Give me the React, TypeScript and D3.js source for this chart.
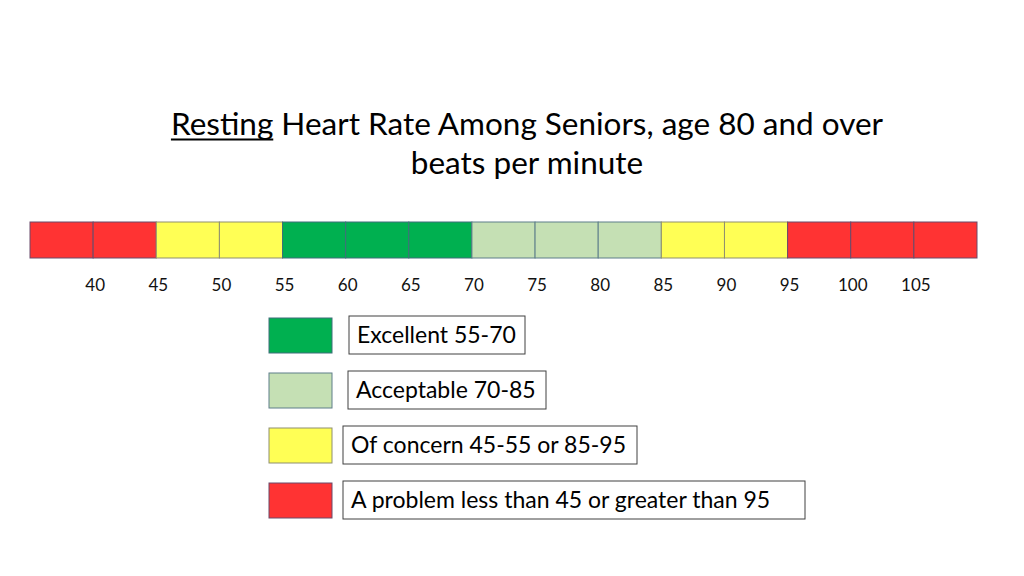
import * as d3 from "d3";
import React, { useLayoutEffect, useRef, useState } from "react";

// 5-bpm bins from 35 to 110
const binStarts = [35, 40, 45, 50, 55, 60, 65, 70, 75, 80, 85, 90, 95, 100, 105];
const binZones = [
  "problem", "problem", "concern", "concern", "excellent", "excellent", "excellent",
  "acceptable", "acceptable", "acceptable", "concern", "concern", "problem", "problem", "problem",
];
const tickValues = [40, 45, 50, 55, 60, 65, 70, 75, 80, 85, 90, 95, 100, 105];

const legendZones = ["excellent", "acceptable", "concern", "problem"];
const legendLabels = [
  "Excellent 55-70",
  "Acceptable 70-85",
  "Of concern 45-55 or 85-95",
  "A problem less than 45 or greater than 95",
];

const zoneColor: Record<string, string> = {
  excellent: "#00b050",
  acceptable: "#c5e0b4",
  concern: "#ffff55",
  problem: "#ff3333",
};
const zoneStroke: Record<string, string> = {
  excellent: "#3f6f7a",
  acceptable: "#5f7f8a",
  concern: "#8f8f70",
  problem: "#6a4a6a",
};

const width = 1024,
  height = 576;
const font = "Lato, 'Open Sans', sans-serif";

export default function App() {
  const x = d3.scaleLinear().domain([35, 110]).range([30, 977]);
  const barTop = 222,
    barH = 36;

  const legendY = d3.scaleLinear().domain([0, 1]).range([316, 371]);
  const boxX = [349, 348, 343, 343];
  const boxW = [176, 198, 294, 462];

  // underline under "Resting", measured from the rendered text
  const restRef = useRef<SVGTSpanElement>(null);
  const [ul, setUl] = useState<[number, number] | null>(null);
  useLayoutEffect(() => {
    if (!restRef.current) return;
    const b = restRef.current.getBBox();
    setUl([b.x, b.x + b.width]);
  }, []);

  return (
    <svg
      width={width}
      height={height}
      style={{ position: "absolute", left: 0, top: 0, background: "#fff" }}
      fontFamily={font}
    >
      <g textAnchor="middle" fill="#000">
        <text x={527} y={135} fontSize={31.5}>
          <tspan ref={restRef}>Resting</tspan> Heart Rate Among Seniors, age 80 and over
        </text>
        <text x={527} y={174} fontSize={31.5}>
          beats per minute
        </text>
      </g>
      {ul && <line x1={ul[0]} x2={ul[1]} y1={139.5} y2={139.5} stroke="#000" strokeWidth={2} />}

      {binStarts.map((s, i) => (
        <rect
          key={s}
          x={x(s)}
          y={barTop}
          width={x(s + 5) - x(s)}
          height={barH}
          fill={zoneColor[binZones[i]]}
          stroke={zoneStroke[binZones[i]]}
          strokeWidth={1}
        />
      ))}

      {tickValues.map((t) => (
        <text key={t} x={x(t) + 2} y={291} fontSize={17} textAnchor="middle" fill="#111">
          {t}
        </text>
      ))}

      {legendZones.map((z, i) => {
        const y0 = legendY(i);
        return (
          <g key={z}>
            <rect x={269} y={y0 + 2} width={63} height={35} fill={zoneColor[z]} stroke={zoneStroke[z]} />
            <rect x={boxX[i]} y={y0} width={boxW[i]} height={38} fill="#fff" stroke="#404040" />
            <text x={boxX[i] + 8} y={y0 + 27} fontSize={23} fill="#000">
              {legendLabels[i]}
            </text>
          </g>
        );
      })}
    </svg>
  );
}
